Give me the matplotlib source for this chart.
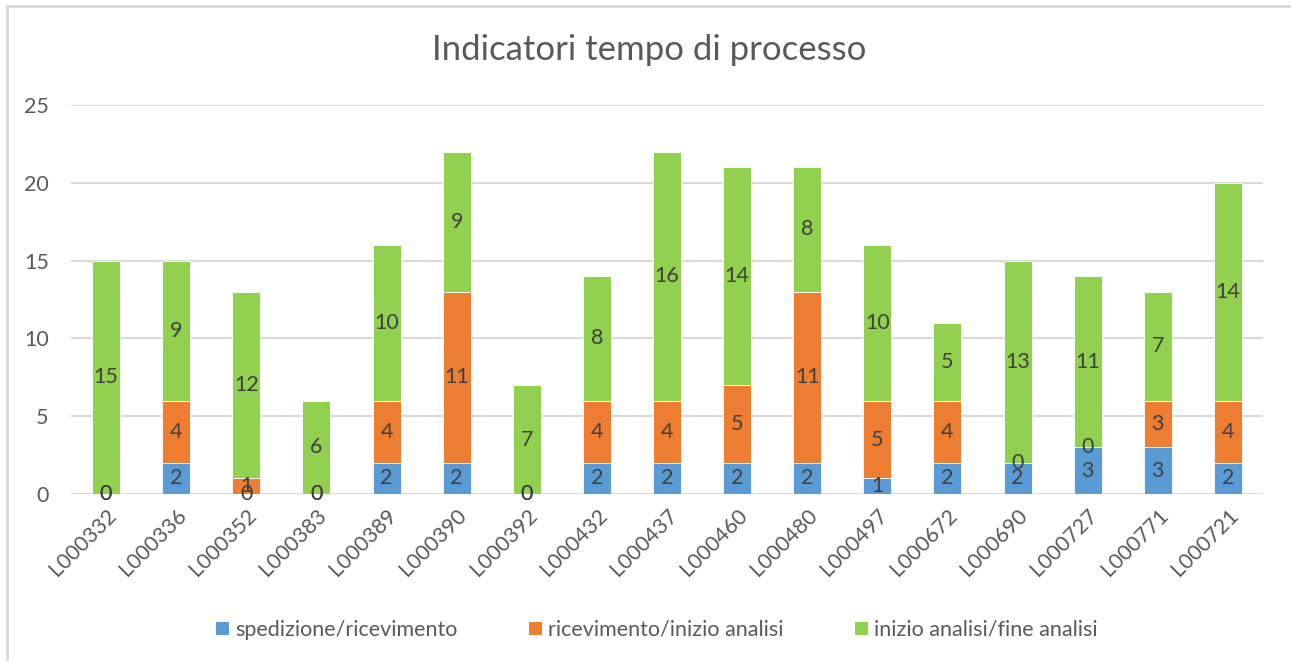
import numpy as np
import matplotlib.pyplot as plt
from matplotlib.lines import Line2D
from matplotlib.patches import Patch

plt.rcParams['font.family'] = ['Lato', 'DejaVu Sans']

categories = ["L000332", "L000336", "L000352", "L000383", "L000389", "L000390",
              "L000392", "L000432", "L000437", "L000460", "L000480", "L000497",
              "L000672", "L000690", "L000727", "L000771", "L000721"]
spedizione = [0, 2, 0, 0, 2, 2, 0, 2, 2, 2, 2, 1, 2, 2, 3, 3, 2]
ricevimento = [0, 4, 1, 0, 4, 11, 0, 4, 4, 5, 11, 5, 4, 0, 0, 3, 4]
analisi = [15, 9, 12, 6, 10, 9, 7, 8, 16, 14, 8, 10, 5, 13, 11, 7, 14]
series_names = ["spedizione/ricevimento", "ricevimento/inizio analisi", "inizio analisi/fine analisi"]
colors = ["#5B9BD5", "#ED7D31", "#92D050"]
text_col = "#595959"
grid_col = "#D9D9D9"

fig = plt.figure(figsize=(12.91, 6.61), dpi=100)
ax = fig.add_axes([71/1291, 1 - 494/661, (1263 - 71)/1291, (494 - 105)/661])

x = np.arange(len(categories))
bottom = np.zeros(len(categories))
for vals, col in zip([spedizione, ricevimento, analisi], colors):
    vals = np.array(vals, dtype=float)
    ax.bar(x, vals, 0.4, bottom=bottom, color=col, edgecolor="white", linewidth=0.6, zorder=3)
    for xi, b, v in zip(x, bottom, vals):
        ax.text(xi, b + v / 2, f"{int(v)}", ha="center", va="center", fontsize=15.5, color="#404040", zorder=4)
    bottom += vals

ax.set_xlim(-0.5, len(categories) - 0.5)
ax.set_ylim(0, 25)
ax.set_yticks(range(0, 26, 5))
ax.yaxis.grid(True, color=grid_col, linewidth=1.5, zorder=0)
for s in ax.spines.values():
    s.set_visible(False)
ax.tick_params(axis="both", length=0, labelsize=15.5, labelcolor=text_col)
ax.tick_params(axis="y", pad=16)
ax.set_xticks(x)
ax.set_xticklabels(categories, rotation=45, ha="right", rotation_mode="anchor")
ax.tick_params(axis="x", pad=8)

fig.text(649/1291, 1 - 50/661, "Indicatori tempo di processo", ha="center", va="center",
         fontsize=25, color=text_col)

handles = [Patch(facecolor=c, edgecolor="none") for c in colors]
fig.legend(handles, series_names, loc="center", bbox_to_anchor=(657/1291, 1 - 630/661),
           ncol=3, frameon=False, fontsize=15.5, labelcolor=text_col, handlelength=0.6,
           handleheight=0.6, handletextpad=0.3, columnspacing=3.3)

# chart border
fig.add_artist(Line2D([7/1291, 7/1291], [0, 1 - 6/661], color=grid_col, linewidth=2))
fig.add_artist(Line2D([7/1291, 1], [1 - 6/661, 1 - 6/661], color=grid_col, linewidth=2))

fig.savefig("out.png", dpi=100)
